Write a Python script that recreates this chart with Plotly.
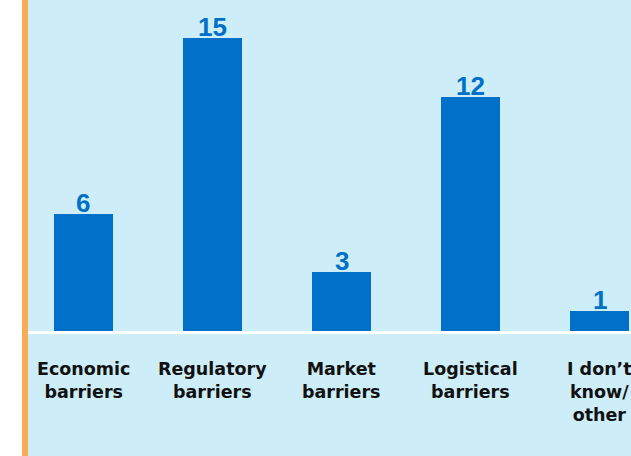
import plotly.graph_objects as go

# Survey results: number of responses per barrier type
categories = ["Economic<br>barriers", "Regulatory<br>barriers", "Market<br>barriers",
              "Logistical<br>barriers", "I don\u2019t<br>know/<br>other"]
counts = [6, 15, 3, 12, 1]

BG = "#cdedf8"
BAR = "#0070c8"
ORANGE = "#f9ab57"

W, H = 631, 456
L, B = 28, 125
pw, ph = W - L, H - B

fig = go.Figure()
fig.add_trace(go.Bar(
    x=list(range(len(categories))), y=counts,
    marker=dict(color=BAR, line=dict(width=0)),
    width=0.457,
    hoverinfo="skip",
))

# value labels sitting on top of each bar
for i, v in enumerate(counts):
    fig.add_annotation(
        x=i, y=v, text=f"<b>{v}</b>", showarrow=False,
        xref="x", yref="y", yanchor="bottom", yshift=-6,
        font=dict(family="Liberation Sans", size=26, color=BAR),
    )

# category names under the baseline (the last one runs off the right edge)
for i, c in enumerate(categories):
    fig.add_annotation(
        x=i, y=0, text=f"<b>{c}</b>", showarrow=False,
        xref="x", yref="paper", yanchor="top", yshift=-26,
        align="center",
        font=dict(family="DejaVu Sans", size=17.5, color="#111111"),
    )

# white strip and orange rule at the left edge
fig.add_shape(type="rect", xref="paper", yref="paper",
              x0=-L / pw, x1=-6 / pw, y0=-B / ph, y1=1,
              fillcolor="white", line=dict(width=0), layer="below")
fig.add_shape(type="rect", xref="paper", yref="paper",
              x0=-6 / pw, x1=0, y0=-B / ph, y1=1,
              fillcolor=ORANGE, line=dict(width=0), layer="below")

fig.update_layout(
    width=W, height=H,
    margin=dict(l=L, r=0, t=0, b=B, pad=0),
    paper_bgcolor=BG, plot_bgcolor=BG,
    showlegend=False,
    bargap=0,
    xaxis=dict(
        range=[-0.430, 4.244],
        tickmode="array", tickvals=list(range(len(categories))),
        showticklabels=False,
        showgrid=False, zeroline=False,
        showline=True, linecolor="white", linewidth=3,
        ticks="",
        fixedrange=True,
    ),
    yaxis=dict(
        range=[0, 16.97], visible=False, showgrid=False, zeroline=False,
        fixedrange=True,
    ),
)

fig.write_html("out.html", config={"displayModeBar": False})
